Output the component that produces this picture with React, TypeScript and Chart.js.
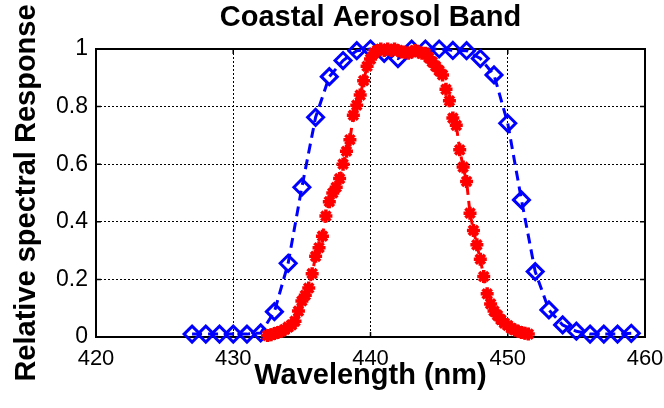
import React, { useEffect, useRef } from "react";
import { Chart, registerables } from "chart.js";

Chart.register(...registerables);

const titleText = "Coastal Aerosol Band";
const xAxisLabel = "Wavelength (nm)";
const yAxisLabel = "Relative spectral Response";

const xTickLabels = ["420", "430", "440", "450", "460"];
const yTickLabels = ["0", "0.2", "0.4", "0.6", "0.8", "1"];

const blueWavelengths = [
  427, 428, 429, 430, 431, 432, 433, 434, 435, 436, 437, 438, 439, 440, 441, 442, 443,
  444, 445, 446, 447, 448, 449, 450, 451, 452, 453, 454, 455, 456, 457, 458, 459,
];
const blueResponse = [
  0.01, 0.01, 0.01, 0.01, 0.01, 0.014, 0.088, 0.256, 0.52, 0.763, 0.904, 0.96, 0.994, 1.0,
  0.985, 0.967, 1.0, 1.0, 1.0, 0.995, 0.994, 0.967, 0.91, 0.742, 0.476, 0.227, 0.094, 0.042,
  0.02, 0.01, 0.01, 0.01, 0.013,
];

const redWavelengths = [
  432.5, 432.75, 433.0, 433.25, 433.5, 433.75, 434.0, 434.25, 434.5, 434.75, 435.0, 435.25,
  435.5, 435.75, 436.0, 436.25, 436.5, 436.75, 437.0, 437.25, 437.5, 437.75, 438.0, 438.25,
  438.5, 438.75, 439.0, 439.25, 439.5, 439.75, 440.0, 440.25, 440.5, 440.75, 441.0, 441.25,
  441.5, 441.75, 442.0, 442.25, 442.5, 442.75, 443.0, 443.25, 443.5, 443.75, 444.0, 444.25,
  444.5, 444.75, 445.0, 445.25, 445.5, 445.75, 446.0, 446.25, 446.5, 446.75, 447.0, 447.25,
  447.5, 447.75, 448.0, 448.25, 448.5, 448.75, 449.0, 449.25, 449.5, 449.75, 450.0, 450.25,
  450.5, 450.75, 451.0, 451.25, 451.5,
];
const redResponse = [
  0.005, 0.008, 0.012, 0.016, 0.02, 0.026, 0.034, 0.042, 0.055, 0.09, 0.125, 0.145,
  0.17, 0.22, 0.28, 0.31, 0.35, 0.42, 0.47, 0.5, 0.52, 0.55, 0.6, 0.645,
  0.685, 0.77, 0.805, 0.84, 0.89, 0.94, 0.965, 0.985, 0.995, 1.0, 0.995, 1.0,
  0.995, 1.0, 0.995, 0.99, 0.99, 0.985, 0.99, 0.995, 0.99, 0.985, 0.985, 0.97,
  0.955, 0.94, 0.925, 0.91, 0.86, 0.82, 0.76, 0.735, 0.65, 0.59, 0.54, 0.43,
  0.37, 0.32, 0.27, 0.21, 0.15, 0.115, 0.09, 0.075, 0.06, 0.048, 0.04, 0.03,
  0.025, 0.02, 0.016, 0.013, 0.01,
];

const FONT = "'Liberation Sans', Arial, Helvetica, sans-serif";

const boxPlugin = {
  id: "matlabBox",
  beforeDatasetsDraw(chart: any) {
    const { ctx, chartArea } = chart;
    const { left, right, top, bottom } = chartArea;
    ctx.save();
    ctx.strokeStyle = "#000";
    ctx.lineWidth = 2;
    ctx.setLineDash([]);
    ctx.strokeRect(left, top, right - left, bottom - top);
    const xs = chart.scales.x;
    const ys = chart.scales.y;
    const tl = 5;
    ctx.lineWidth = 1.5;
    ctx.beginPath();
    xs.ticks.forEach((t: any) => {
      const px = xs.getPixelForValue(t.value);
      ctx.moveTo(px, bottom);
      ctx.lineTo(px, bottom - tl);
      ctx.moveTo(px, top);
      ctx.lineTo(px, top + tl);
    });
    ys.ticks.forEach((t: any) => {
      const py = ys.getPixelForValue(t.value);
      ctx.moveTo(left, py);
      ctx.lineTo(left + tl, py);
      ctx.moveTo(right, py);
      ctx.lineTo(right - tl, py);
    });
    ctx.stroke();
    ctx.restore();
  },
};

export default function App() {
  const ref = useRef<HTMLCanvasElement | null>(null);

  useEffect(() => {
    document.body.style.margin = "0";
    const canvas = ref.current;
    if (!canvas) return;
    const chart = new Chart(canvas, {
      type: "scatter",
      data: {
        datasets: [
          {
            label: "red",
            data: redWavelengths.map((x, i) => ({ x, y: redResponse[i] })),
            showLine: true,
            borderColor: "#ff0000",
            backgroundColor: "#ff0000",
            borderWidth: 3,
            borderDash: [9, 6],
            pointStyle: "star",
            pointRadius: 6.5,
            pointBorderWidth: 3.5,
            pointBorderColor: "#ff0000",
            pointBackgroundColor: "#ff0000",
            clip: false,
            order: 0,
          },
          {
            label: "blue",
            data: blueWavelengths.map((x, i) => ({ x, y: blueResponse[i] })),
            showLine: true,
            borderColor: "#0000ff",
            backgroundColor: "rgba(0,0,0,0)",
            borderWidth: 3,
            borderDash: [10, 6],
            pointStyle: "rectRot",
            pointRadius: 8,
            pointBorderWidth: 3,
            pointBorderColor: "#0000ff",
            pointBackgroundColor: "rgba(0,0,0,0)",
            clip: false,
            order: 1,
          },
        ],
      },
      options: {
        animation: false,
        responsive: false,
        maintainAspectRatio: false,
        layout: { padding: { left: 0, right: 19, top: 0, bottom: 0 } },
        plugins: {
          legend: { display: false },
          tooltip: { enabled: false },
          title: {
            display: true,
            text: titleText,
            fullSize: false,
            color: "#000",
            font: { family: FONT, size: 29, weight: "bold", lineHeight: 1 },
            padding: { top: 3, bottom: 17 },
          },
        },
        scales: {
          x: {
            type: "linear",
            min: 420,
            max: 460,
            afterFit(scale: any) {
              scale.height = 71;
              scale.paddingLeft = 0;
              scale.paddingRight = 0;
            },
            ticks: {
              stepSize: 10,
              color: "#000",
              padding: 9,
              font: { family: FONT, size: 22 },
              callback: (v: any) => {
                const i = xTickLabels.indexOf(String(v));
                return i >= 0 ? xTickLabels[i] : "";
              },
              maxRotation: 0,
            },
            grid: { color: "#000", lineWidth: 1, drawTicks: false },
            border: { display: false, dash: [2, 2] },
            title: {
              display: true,
              text: xAxisLabel,
              color: "#000",
              font: { family: FONT, size: 29, weight: "bold", lineHeight: 1 },
              padding: { top: 0, bottom: 18 },
            },
          },
          y: {
            type: "linear",
            min: 0,
            max: 1,
            afterFit(scale: any) {
              scale.width = 96;
              scale.paddingTop = 0;
              scale.paddingBottom = 0;
            },
            ticks: {
              stepSize: 0.2,
              color: "#000",
              padding: 8,
              font: { family: FONT, size: 23 },
              callback: (v: any) => yTickLabels[Math.round(Number(v) * 5)],
            },
            grid: { color: "#000", lineWidth: 1, drawTicks: false },
            border: { display: false, dash: [2, 2] },
            title: {
              display: true,
              text: yAxisLabel,
              color: "#000",
              font: { family: FONT, size: 29, weight: "bold", lineHeight: 1 },
              padding: { top: 12, bottom: 0 },
            },
          },
        },
      },
      plugins: [boxPlugin],
    });
    return () => chart.destroy();
  }, []);

  return (
    <div style={{ width: 664, height: 408, background: "#fff" }}>
      <canvas ref={ref} width={664} height={408} style={{ display: "block" }} />
    </div>
  );
}
